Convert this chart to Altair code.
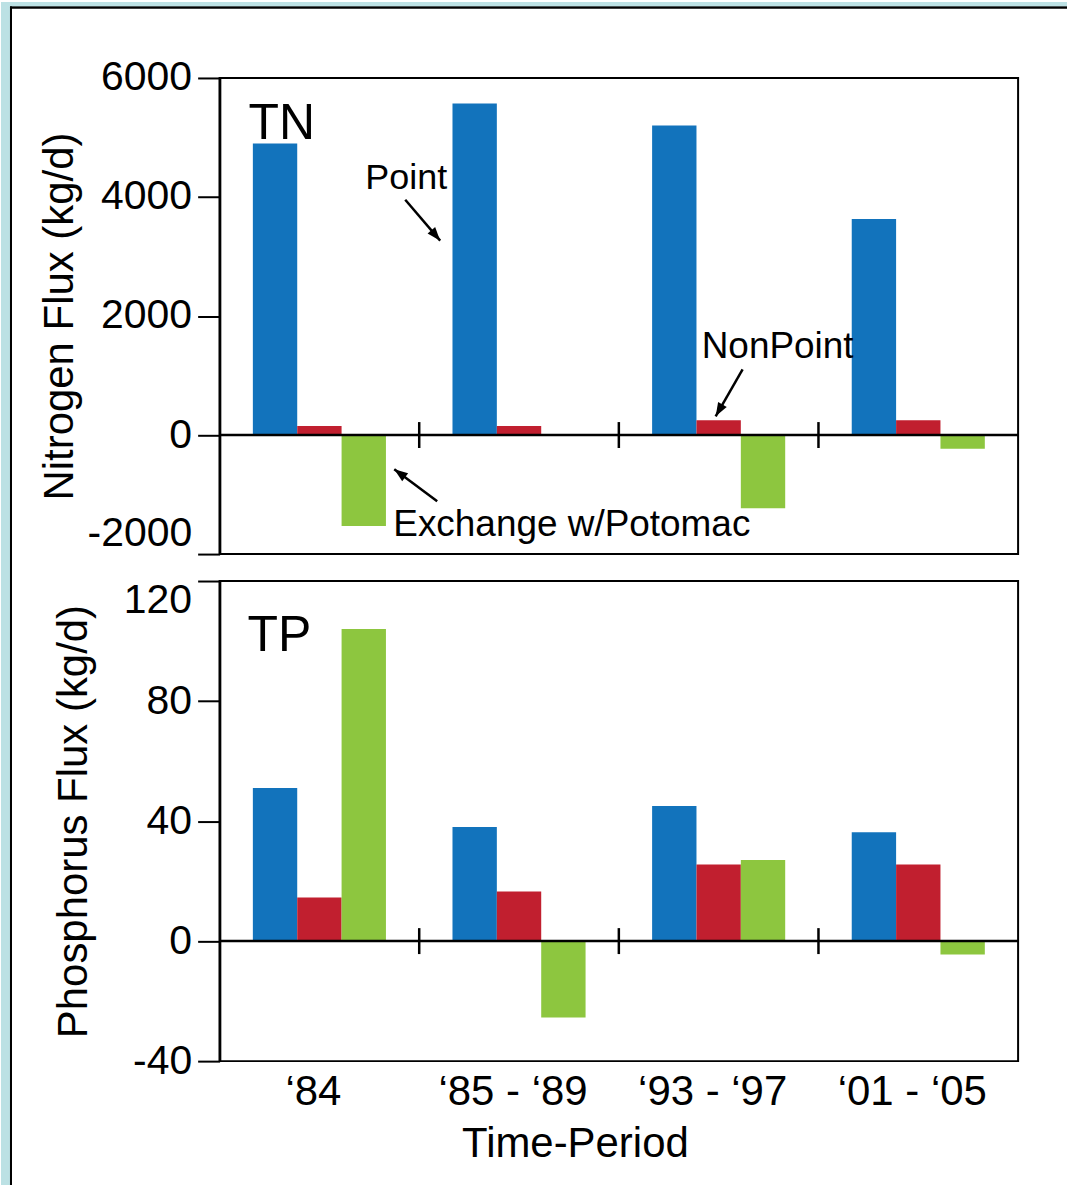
import altair as alt
import pandas as pd

# ---------------- data ----------------
periods = ["\u201884", "\u201885 - \u201889", "\u201893 - \u2018" + "97", "\u201801 - \u201805"]
sources = ["Point", "NonPoint", "Exchange w/Potomac"]
colors = ["#1273bc", "#c11f2f", "#8dc63f"]

tn_point = [4900, 5570, 5200, 3630]
tn_nonpoint = [150, 150, 250, 250]
tn_exchange = [-1530, 0, -1230, -230]

tp_point = [51, 38, 45, 36.3]
tp_nonpoint = [14.5, 16.5, 25.5, 25.5]
tp_exchange = [104, -25.5, 27, -4.5]

tn_ticks = [-2000, 0, 2000, 4000, 6000]
tp_ticks = [-40, 0, 40, 80, 120]
tn_domain = [-2000, 6000]
tp_domain = [-40, 120]


def make_df(a, b, c):
    rows = []
    for i, p in enumerate(periods):
        for s, vals in zip(sources, (a, b, c)):
            rows.append({"period": p, "source": s, "value": vals[i]})
    return pd.DataFrame(rows)


tn_df = make_df(tn_point, tn_nonpoint, tn_exchange)
tp_df = make_df(tp_point, tp_nonpoint, tp_exchange)
sep_df = pd.DataFrame({"period": periods[1:]})
one = pd.DataFrame({"k": [0]})

FONT = "Liberation Sans"
FRAME_BLUE = "#bce1e4"
HEAD = "M0,0L0.42,1.15L-0.42,1.15Z"

L0 = -219
R0 = 849


def frame_layers(t0, b0):
    """Page frame (blue margin + black border); t0/b0 = page top/bottom relative to the plot."""
    return [
        alt.Chart(one).mark_rect(color=FRAME_BLUE).encode(
            x=alt.value(L0), x2=alt.value(R0), y=alt.value(t0), y2=alt.value(t0 + 4.5)),
        alt.Chart(one).mark_rect(color=FRAME_BLUE).encode(
            x=alt.value(L0), x2=alt.value(L0 + 9), y=alt.value(t0), y2=alt.value(b0)),
        alt.Chart(one).mark_rect(color="black").encode(
            x=alt.value(L0 + 9), x2=alt.value(R0), y=alt.value(t0 + 4.5), y2=alt.value(t0 + 6.5)),
        alt.Chart(one).mark_rect(color="black").encode(
            x=alt.value(L0 + 9), x2=alt.value(L0 + 11), y=alt.value(t0 + 4.5), y2=alt.value(b0)),
    ]


def arrow(x1, y1, x2, y2, ang):
    line = alt.Chart(one).mark_rule(color="black", strokeWidth=2.5).encode(
        x=alt.value(x1), y=alt.value(y1), x2=alt.value(x2), y2=alt.value(y2))
    head = alt.Chart(one).mark_point(shape=HEAD, filled=True, color="black",
                                     opacity=1, size=560, angle=ang).encode(
        x=alt.value(x2), y=alt.value(y2))
    return [line, head]


def label(txt, x, y, size):
    return alt.Chart(one).mark_text(text=txt, align="left", baseline="alphabetic",
                                    font=FONT, fontSize=size, color="black").encode(
        x=alt.value(x), y=alt.value(y))


def panel(df, ticks, dom, height, ytitle, cond_value, cond_base, title_pad, bottom, extra, frame):
    xscale = alt.Scale(domain=periods, paddingInner=0, paddingOuter=0)
    if bottom:
        xaxis = alt.Axis(title="Time-Period", labelAngle=0, labelFontSize=42, labelFont=FONT,
                         labelColor="black", ticks=False, domain=False, labelPadding=10,
                         labelOffset=-6, titleX=356,
                         titlePadding=12, titleFontSize=42, titleFont=FONT,
                         titleFontWeight="normal", titleColor="black")
    else:
        xaxis = None
    yaxis = alt.Axis(values=ticks, title=ytitle, labelExpr="'' + datum.value", grid=False,
                     labelFontSize=41, labelFont=FONT, labelColor="black", labelPadding=6,
                     labelOverlap=False, labelFlush=False,
                     labelBaseline={"condition": {"test": f"datum.value == {cond_value}",
                                                  "value": cond_base}, "value": "middle"},
                     tickSize=22, tickWidth=2, tickColor="black",
                     domainColor="black", domainWidth=2.5,
                     titleFontSize=42, titleFont=FONT, titleFontWeight="normal",
                     titleColor="black", titlePadding=title_pad)
    yscale = alt.Scale(domain=dom, nice=False, zero=False)

    bars = alt.Chart(df).mark_bar().encode(
        x=alt.X("period:N", sort=periods, scale=xscale, axis=xaxis),
        xOffset=alt.XOffset("source:N", sort=sources,
                            scale=alt.Scale(domain=sources, paddingInner=0, paddingOuter=0.75)),
        y=alt.Y("value:Q", scale=yscale, axis=yaxis),
        color=alt.Color("source:N", scale=alt.Scale(domain=sources, range=colors), legend=None),
    )
    zero = alt.Chart(one).mark_rule(color="black", strokeWidth=2.5).encode(y=alt.datum(0))
    half = (dom[1] - dom[0]) * 13.0 / height
    seps = alt.Chart(sep_df).mark_rule(color="black", strokeWidth=2.5).encode(
        x=alt.X("period:N", sort=periods, bandPosition=0, scale=xscale, axis=xaxis),
        y=alt.datum(half), y2=alt.datum(-half))
    layers = frame + [bars, zero, seps] + extra
    return alt.layer(*layers).properties(width=800, height=height)


top_extra = [label("TN", 29, 61, 50), label("Point", 146, 111, 36),
             label("NonPoint", 483, 281, 37), label("Exchange w/Potomac", 174, 459, 37)]
top_extra += arrow(186, 122, 221, 163, 139.6)
top_extra += arrow(524, 292, 497, 339, 209.9)
top_extra += arrow(218, 424, 175, 392, 306.7)

bot_extra = [label("TP", 28, 70, 50)]

top = panel(tn_df, tn_ticks, tn_domain, 477, "Nitrogen Flux (kg/d)", -2000, "bottom", 6,
            False, top_extra, frame_layers(-76, 1109))
bot = panel(tp_df, tp_ticks, tp_domain, 481, "Phosphorus Flux (kg/d)", 120, "top", 28,
            True, bot_extra, frame_layers(-580, 605))

chart = alt.vconcat(top, bot, spacing=27, bounds="flush").properties(
    padding=0, background="white"
).configure_view(stroke="black", strokeWidth=2)

chart.save("out.html", embed_options={"renderer": "svg", "actions": False})
